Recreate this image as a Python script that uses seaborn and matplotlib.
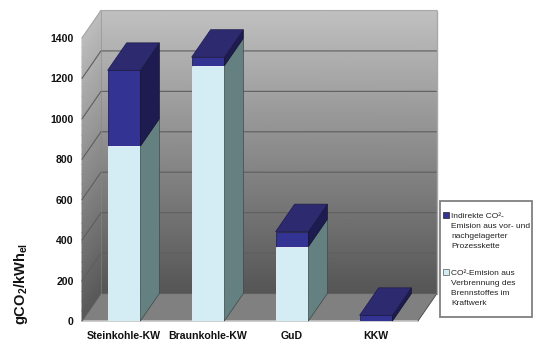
#!/usr/bin/env python
import numpy as np
import pandas as pd
import matplotlib
matplotlib.use('Agg')
import matplotlib.pyplot as plt
import seaborn as sns
from matplotlib.colors import LinearSegmentedColormap
from matplotlib.patches import Patch, Rectangle

categories = ['Steinkohle-KW', 'Braunkohle-KW', 'GuD', 'KKW']
direct = [865, 1263, 368, 0]
indirect = [375, 42, 74, 28]
yticks = [0, 200, 400, 600, 800, 1000, 1200, 1400]
label_indirect = 'Indirekte CO²-\nEmision aus vor- und\nnachgelagerter\nProzesskette'
label_direct = 'CO²-Emision aus\nVerbrennung des\nBrennstoffes im\nKraftwerk'

# colours of the faces
navy_front, navy_top, navy_side = '#333393', '#2e2a70', '#1e1b50'
light_front, light_side = '#d4edf4', '#658080'

# 3d look: how far the back plane is shifted, in data units
dx, dy = 0.226, 136

sns.set_theme(style='white')
plt.rcParams['font.family'] = ['Liberation Sans', 'DejaVu Sans']
plt.rcParams['mathtext.fontset'] = 'custom'
plt.rcParams['mathtext.bf'] = 'Liberation Sans:bold'
plt.rcParams['mathtext.rm'] = 'Liberation Sans'

df = pd.DataFrame({'typ': categories, 'direct': direct, 'indirect': indirect})
df['total'] = df['direct'] + df['indirect']

fig = plt.figure(figsize=(5.45, 3.56), dpi=100)
rect = [82 / 545, 35 / 356, 336 / 545, 283 / 356]
# pcolormesh does not like the categorical axis, so the walls get their own axes below
wall_ax = fig.add_axes(rect, zorder=0)
ax = fig.add_axes(rect, zorder=1)

sns.barplot(data=df, x='typ', y='total', color=navy_front, saturation=1, width=0.39,
            edgecolor='#26264a', linewidth=0.6, ax=ax)
sns.barplot(data=df, x='typ', y='direct', color=light_front, saturation=1, width=0.39,
            edgecolor='#f4fafc', linewidth=0.6, ax=ax)
x0, x1 = -0.5, len(categories) - 0.5
top = 1400

# walls with a grey gradient
cmap = LinearSegmentedColormap.from_list('wall', ['#555555', '#c0c0c0'])
t = np.linspace(0, 1, 30)
bx, by = np.meshgrid([x0 + dx, x1 + dx], dy + t * top)
wall_ax.pcolormesh(bx, by, np.column_stack([t, t]), cmap=cmap, vmin=0, vmax=1, shading='gouraud',
                   clip_on=False)
lx = np.array([[x0, x0 + dx]] * len(t))
ly = np.column_stack([t * top, dy + t * top])
wall_ax.pcolormesh(lx, ly, np.column_stack([t, t]), cmap=cmap, vmin=-0.03, vmax=1.03, shading='gouraud',
                   clip_on=False)
wall_ax.set_xlim(x0, x1)
wall_ax.set_ylim(0, top)
wall_ax.axis('off')

# floor
ax.fill([x0, x1, x1 + dx, x0 + dx], [0, 0, dy, dy], color='#808080', lw=0, zorder=0.2, clip_on=False)
ax.plot([x0, x1], [0, 0], color='#c4c4c4', lw=1.2, zorder=0.3, clip_on=False)
ax.plot([x1, x1 + dx], [0, dy], color='#444444', lw=0.6, zorder=0.3, clip_on=False)

# grid lines on left and back wall
for v in yticks:
    col = '#a8a8a8' if v == top else '#5e5e5e'
    ax.plot([x0, x0 + dx, x1 + dx], [v, v + dy, v + dy], color=col, lw=0.8, zorder=0.4, clip_on=False,
            solid_joinstyle='miter')
ax.plot([x0 + dx, x0 + dx], [dy, top + dy], color='#888888', lw=0.6, alpha=0.6, zorder=0.4, clip_on=False)
ax.plot([x1 + dx, x1 + dx], [dy, top + dy], color='#a8a8a8', lw=1.0, zorder=0.4, clip_on=False)

# side and top faces, taken from the bars seaborn has drawn
for full, low in zip(ax.containers[0], ax.containers[1]):
    r = full.get_x() + full.get_width()
    l = full.get_x()
    h = full.get_height()
    m = low.get_height()
    ax.fill([r, r + dx, r + dx, r], [0, dy, m + dy, m], fc=light_side, ec='#3a4a4a', lw=0.5, zorder=2,
            clip_on=False)
    ax.fill([r, r + dx, r + dx, r], [m, m + dy, h + dy, h], fc=navy_side, ec='#15133a', lw=0.5, zorder=2,
            clip_on=False)
    ax.fill([l, r, r + dx, l + dx], [h, h, h + dy, h + dy], fc=navy_top, ec='#1c1a4a', lw=0.5, zorder=2,
            clip_on=False)

ax.set_xlim(x0, x1)
ax.set_ylim(0, top)
for spine in ax.spines.values():
    spine.set_visible(False)
ax.patch.set_visible(False)
ax.set_xlabel('')
ax.set_ylabel('')
ax.set_yticks(yticks)
ax.tick_params(axis='y', length=0, pad=6)
ax.tick_params(axis='x', length=0, pad=7)
for lab in ax.get_xticklabels() + ax.get_yticklabels():
    lab.set_fontsize(7.6)
    lab.set_fontweight('bold')
    lab.set_color('#111111')

fig.text(21 / 545, 1 - 284 / 356, r'$\mathbf{gCO_2/kWh_{el}}$', rotation=90, fontsize=10.5,
         ha='center', va='center', color='#111111')

# legend frame on its own, the legend has less padding at the sides than above and below
fig.add_artist(Rectangle((440 / 545, 1 - 317 / 356), 92 / 545, 116 / 356, transform=fig.transFigure,
                         fc='white', ec='#808080', lw=1.3))
handles = [Patch(fc=navy_front, ec='#222222', lw=0.5), Patch(fc=light_front, ec='#555555', lw=0.5)]
leg = fig.legend(handles, [label_indirect, label_direct], loc='upper left',
                 bbox_to_anchor=(443 / 545, 1 - 213 / 356), fontsize=6.05, frameon=False,
                 handlelength=0.7, handleheight=0.7, handletextpad=0.25, labelspacing=2.4,
                 borderpad=0, borderaxespad=0)
for txt in leg.get_texts():
    txt.set_color('#222222')
    txt.set_linespacing(1.58)
# put the squares next to the first line of each entry
for h in leg.legend_handles:
    h.set_y(h.get_y() + 11.6)

fig.savefig('out.png', dpi=100)
